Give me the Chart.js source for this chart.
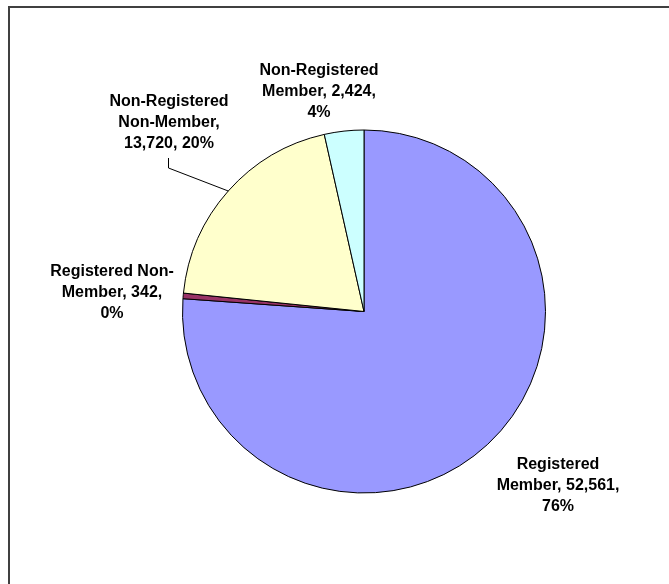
<!DOCTYPE html>
<html>
<head>
<meta charset="utf-8">
<script src="https://cdn.jsdelivr.net/npm/chart.js@4/dist/chart.umd.min.js"></script>
<style>
  html, body { margin: 0; padding: 0; background: #ffffff; }
  #wrap { position: relative; width: 669px; height: 584px; }
</style>
</head>
<body>
<div id="wrap"><canvas id="c" width="669" height="584"></canvas></div>
<script>
// ---- data ----
const categories = ["Registered Member", "Registered Non-Member", "Non-Registered Non-Member", "Non-Registered Member"];
const values = [52561, 342, 13720, 2424];
const percentLabels = ["76%", "0%", "20%", "4%"];
const valueLabels = ["52,561", "342", "13,720", "2,424"];
const labelLines = [
  ["Registered", "Member, 52,561,", "76%"],
  ["Registered Non-", "Member, 342,", "0%"],
  ["Non-Registered", "Non-Member,", "13,720, 20%"],
  ["Non-Registered", "Member, 2,424,", "4%"]
];
const colors = ["#9999FF", "#993366", "#FFFFCC", "#CCFFFF"];

// ---- label layout (style, not data): centre of each text block ----
const labelPos = [
  {x: 558, y: 486},
  {x: 112, y: 293},
  {x: 169, y: 123},
  {x: 319, y: 92}
];
const lineGap = 21;
const leader = [null, null, {x: 168, y1: 158, y2: 168}, null];

const frameAndLabels = {
  id: 'frameAndLabels',
  afterDraw(chart) {
    const ctx = chart.ctx;
    ctx.save();
    ctx.strokeStyle = '#404040';
    ctx.lineWidth = 2;
    ctx.beginPath();
    ctx.moveTo(9, 700);
    ctx.lineTo(9, 7);
    ctx.lineTo(700, 7);
    ctx.stroke();

    const meta = chart.getDatasetMeta(0);
    ctx.font = 'bold 16px "Liberation Sans", Arial, sans-serif';
    ctx.fillStyle = '#000000';
    ctx.textAlign = 'center';
    ctx.textBaseline = 'middle';
    labelLines.forEach((lines, i) => {
      const p = labelPos[i];
      const y0 = p.y - (lines.length - 1) * lineGap / 2;
      lines.forEach((t, k) => ctx.fillText(t, p.x, y0 + k * lineGap));
      const L = leader[i];
      if (L) {
        const arc = meta.data[i];
        const mid = (arc.startAngle + arc.endAngle) / 2;
        const ex = arc.x + Math.cos(mid) * arc.outerRadius;
        const ey = arc.y + Math.sin(mid) * arc.outerRadius;
        ctx.strokeStyle = '#000000';
        ctx.lineWidth = 1;
        ctx.beginPath();
        ctx.moveTo(L.x + 0.5, L.y1);
        ctx.lineTo(L.x + 0.5, L.y2);
        ctx.lineTo(ex, ey);
        ctx.stroke();
      }
    });
    ctx.restore();
  }
};

new Chart(document.getElementById('c'), {
  type: 'pie',
  data: {
    labels: categories,
    datasets: [{
      data: values,
      backgroundColor: colors,
      borderColor: '#000000',
      borderWidth: 1,
      hoverOffset: 0
    }]
  },
  options: {
    responsive: false,
    animation: false,
    events: [],
    radius: 181.5,
    layout: { padding: { left: 182.5, right: 123.5, top: 130, bottom: 91 } },
    plugins: {
      legend: { display: false },
      tooltip: { enabled: false }
    }
  },
  plugins: [frameAndLabels]
});
</script>
</body>
</html>
